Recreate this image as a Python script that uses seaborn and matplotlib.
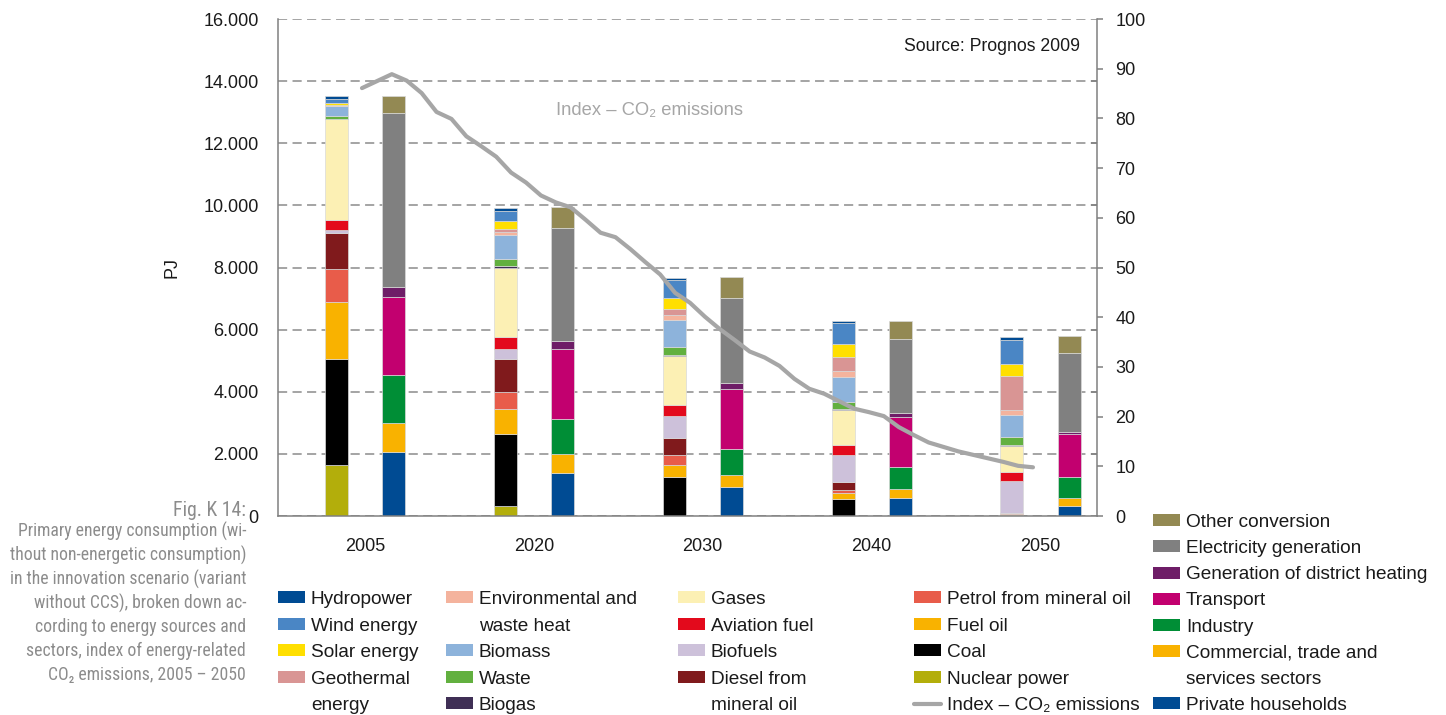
import numpy as np
import seaborn as sns
import matplotlib.pyplot as plt
from matplotlib import font_manager
from matplotlib.font_manager import FontProperties
from matplotlib.patches import Patch
from matplotlib.lines import Line2D
from matplotlib.ticker import FuncFormatter

years = ['2005', '2020', '2030', '2040', '2050']

# energy sources in PJ, stacked from bottom to top
nuclear = [1650, 320, 0, 0, 0]
coal = [3400, 2310, 1250, 550, 40]
fuel_oil = [1850, 810, 380, 190, 20]
petrol = [1040, 540, 320, 100, 30]
diesel = [1180, 1070, 550, 240, 20]
biofuels = [80, 330, 720, 870, 1010]
aviation = [330, 390, 350, 340, 310]
gases = [3240, 2230, 1590, 1120, 840]
biogas = [20, 40, 30, 20, 20]
waste = [90, 250, 250, 250, 240]
biomass = [310, 750, 870, 800, 730]
env_heat = [30, 110, 160, 190, 160]
geothermal = [20, 90, 210, 460, 1100]
solar = [50, 250, 350, 400, 380]
wind = [140, 340, 560, 690, 770]
hydro = [80, 90, 80, 70, 80]

# sectors in PJ, stacked from bottom to top
households = [2070, 1370, 940, 590, 330]
commercial = [910, 630, 380, 280, 240]
industry = [1560, 1110, 840, 720, 680]
transport = [2520, 2270, 1940, 1610, 1390]
district_heat = [320, 250, 190, 130, 60]
electricity = [5580, 3650, 2740, 2380, 2550]
other_conv = [560, 660, 650, 580, 530]

# index of energy-related CO2 emissions, one value per year
co2_years = list(range(2005, 2051))
co2_index = [86.1, 87.5, 88.9, 87.6, 85.1, 81.3, 79.9, 76.4, 74.4, 72.3,
             69.1, 67.1, 64.5, 63.1, 62.1, 59.6, 57.0, 56.1, 53.7, 51.1,
             48.6, 44.9, 42.9, 40.1, 37.6, 35.4, 33.1, 31.9, 30.2, 27.6,
             25.6, 24.6, 23.1, 21.6, 20.9, 20.1, 17.9, 16.3, 14.8, 13.9,
             13.0, 12.3, 11.6, 10.9, 10.1, 9.8]

sources = [nuclear, coal, fuel_oil, petrol, diesel, biofuels, aviation, gases,
           biogas, waste, biomass, env_heat, geothermal, solar, wind, hydro]
source_colors = ['#b3ae0b', '#000000', '#f9b200', '#e85c4a', '#801a1c', '#cdc1da',
                 '#e30a1c', '#fcf0b4', '#3f2f55', '#62b03f', '#8db3db', '#f4b39d',
                 '#d99594', '#ffdf00', '#4a86c5', '#004b93']
sectors = [households, commercial, industry, transport, district_heat, electricity, other_conv]
sector_colors = ['#004b93', '#f9b200', '#008e36', '#c2006f', '#6e1d67', '#808080', '#938953']

caption_title = 'Fig. K 14:'
caption_lines = ['Primary energy consumption (wi-', 'thout non-energetic consumption)',
                 'in the innovation scenario (variant', 'without CCS), broken down ac-',
                 'cording to energy sources and', 'sectors, index of energy-related',
                 'CO₂ emissions, 2005 – 2050']

sns.set_style('white')
plt.rcParams['font.family'] = ['Liberation Sans', 'DejaVu Sans']

# pick a narrow face for the caption if one is installed
ttf = font_manager.fontManager.ttflist
names = {f.name for f in ttf}
cap_fp = None
for n in ['Liberation Sans Narrow', 'Roboto Condensed', 'Open Sans Condensed', 'Noto Sans Condensed',
          'DejaVu Sans Condensed']:
    if n in names:
        cap_fp = FontProperties(family=[n, 'DejaVu Sans'], size=14)
        break
if cap_fp is None:
    for n in ['Roboto', 'Noto Sans', 'Open Sans', 'Liberation Sans', 'DejaVu Sans']:
        if any(f.name == n and f.stretch in ('condensed', 'semi-condensed', 'extra-condensed') for f in ttf):
            cap_fp = FontProperties(family=[n, 'DejaVu Sans'], stretch='condensed', size=14)
            break
if cap_fp is None:
    cap_fp = FontProperties(family=['Liberation Sans', 'DejaVu Sans'], size=14)

spine_col = '#808080'
fig = plt.figure(figsize=(14.46, 7.15), dpi=100)
ax = fig.add_axes([0.1926, 0.2783, 0.5660, 0.6951])

x = np.arange(len(years))
bottom = np.zeros(len(years))
for vals, col in zip(sources, source_colors):
    ax.bar(x - 0.169, vals, width=0.136, bottom=bottom, color=col, edgecolor='#d9d9d9', linewidth=0.5)
    bottom += np.array(vals)
bottom = np.zeros(len(years))
for vals, col in zip(sectors, sector_colors):
    ax.bar(x + 0.169, vals, width=0.136, bottom=bottom, color=col, edgecolor='#d9d9d9', linewidth=0.5)
    bottom += np.array(vals)

ax.set_xlim(-0.512, 4.334)
ax.set_ylim(0, 16000)
ax.set_xticks(x)
ax.set_xticklabels(years)
ax.set_yticks(np.arange(0, 16001, 2000))
ax.yaxis.set_major_formatter(FuncFormatter(lambda v, p: f'{int(v):,}'.replace(',', '.')))
ax.set_axisbelow(True)
ax.yaxis.grid(True, color='#8c8c8c', linewidth=1.1, linestyle=(0, (6, 3.5)))
ax.tick_params(axis='x', length=0, pad=16, labelsize=13, colors='#1a1a1a')
ax.tick_params(axis='y', length=4.3, width=1.1, color=spine_col, pad=10, labelsize=13, labelcolor='#1a1a1a')
for s in ['top', 'right']:
    ax.spines[s].set_visible(False)
for s in ['left', 'bottom']:
    ax.spines[s].set_color(spine_col)
    ax.spines[s].set_linewidth(1.1)
ax.set_ylabel('PJ', fontsize=13, color='#1a1a1a')
ax.yaxis.set_label_coords(-0.12, 0.5)
ax.text(0.979, 0.944, 'Source: Prognos 2009', transform=ax.transAxes, ha='right', va='center',
        fontsize=12.7, color='#1a1a1a')

# CO2 index on its own yearly axis
ax2 = fig.add_axes(ax.get_position(), facecolor='none')
sns.lineplot(x=co2_years, y=co2_index, ax=ax2, color='#a6a6a6', linewidth=3)
ax2.set_xlim(1999.40, 2054.29)
ax2.set_ylim(0, 100)
ax2.xaxis.set_visible(False)
ax2.yaxis.tick_right()
ax2.set_ylabel('')
ax2.set_yticks(np.arange(0, 101, 10))
ax2.set_yticks(np.arange(12.5, 100, 12.5), minor=True)
ax2.tick_params(axis='y', which='major', direction='out', length=4.3, width=1.1, color=spine_col,
                pad=9, labelsize=13, labelcolor='#1a1a1a')
ax2.tick_params(axis='y', which='minor', direction='in', length=4.3, width=1.1, color=spine_col)
for s in ['left', 'top', 'bottom']:
    ax2.spines[s].set_visible(False)
ax2.spines['right'].set_color(spine_col)
ax2.spines['right'].set_linewidth(1.1)
ax2.text(2018.0, 81.5, 'Index – CO₂ emissions', ha='left', va='center', fontsize=13.2, color='#a6a6a6')

# legends
leg_kw = dict(loc='upper left', frameon=False, fontsize=13.7, handlelength=1.42, handleheight=0.6,
              handletextpad=0.3, borderpad=0, borderaxespad=0, labelcolor='#1a1a1a')
blank = Patch(facecolor='none', edgecolor='none')
sc = dict(zip(['nuclear', 'coal', 'fuel_oil', 'petrol', 'diesel', 'biofuels', 'aviation', 'gases',
               'biogas', 'waste', 'biomass', 'env_heat', 'geothermal', 'solar', 'wind', 'hydro'],
              source_colors))
columns = [
    ([sc['hydro'], sc['wind'], sc['solar'], sc['geothermal'], None],
     ['Hydropower', 'Wind energy', 'Solar energy', 'Geothermal', 'energy'], 0.1923),
    ([sc['env_heat'], None, sc['biomass'], sc['waste'], sc['biogas']],
     ['Environmental and', 'waste heat', 'Biomass', 'Waste', 'Biogas'], 0.3084),
    ([sc['gases'], sc['aviation'], sc['biofuels'], sc['diesel'], None],
     ['Gases', 'Aviation fuel', 'Biofuels', 'Diesel from', 'mineral oil'], 0.4689),
    ([sc['petrol'], sc['fuel_oil'], sc['coal'], sc['nuclear'], 'line'],
     ['Petrol from mineral oil', 'Fuel oil', 'Coal', 'Nuclear power', 'Index – CO₂ emissions'], 0.6321),
]
for cols, labels, x0 in columns:
    handles = []
    for c in cols:
        if c is None:
            handles.append(blank)
        elif c == 'line':
            handles.append(Line2D([], [], color='#a6a6a6', linewidth=3))
        else:
            handles.append(Patch(facecolor=c, edgecolor='none'))
    fig.legend(handles, labels, bbox_to_anchor=(x0, 0.1734), labelspacing=0.5, **leg_kw)

sector_labels = ['Other conversion', 'Electricity generation', 'Generation of district heating',
                 'Transport', 'Industry', 'Commercial, trade and', 'services sectors', 'Private households']
sector_handles = [Patch(facecolor=c, edgecolor='none') for c in
                  ['#938953', '#808080', '#6e1d67', '#c2006f', '#008e36', '#f9b200']]
sector_handles += [blank, Patch(facecolor='#004b93', edgecolor='none')]
fig.legend(sector_handles, sector_labels, bbox_to_anchor=(0.7974, 0.2811), labelspacing=0.48, **leg_kw)

# caption, right aligned, size fitted so the widest line spans the reference width
renderer = fig.canvas.get_renderer()
widest = 0
for line in caption_lines:
    probe = fig.text(0, 0, line, fontproperties=cap_fp)
    widest = max(widest, probe.get_window_extent(renderer).width)
    probe.remove()
cap_size = min(14.5, 14 * 237 / widest)
cap_fp.set_size(cap_size)
title_fp = cap_fp.copy()
title_fp.set_size(cap_size * 1.12)
cap_x = 246 / 1446
fig.text(cap_x, 1 - 511 / 715, caption_title, ha='right', va='center', color='#8c8c8c', fontproperties=title_fp)
for i, line in enumerate(caption_lines):
    fig.text(cap_x, 1 - (531 + 24 * i) / 715, line, ha='right', va='center', color='#8c8c8c',
             fontproperties=cap_fp)

fig.savefig('out.png', dpi=100)
